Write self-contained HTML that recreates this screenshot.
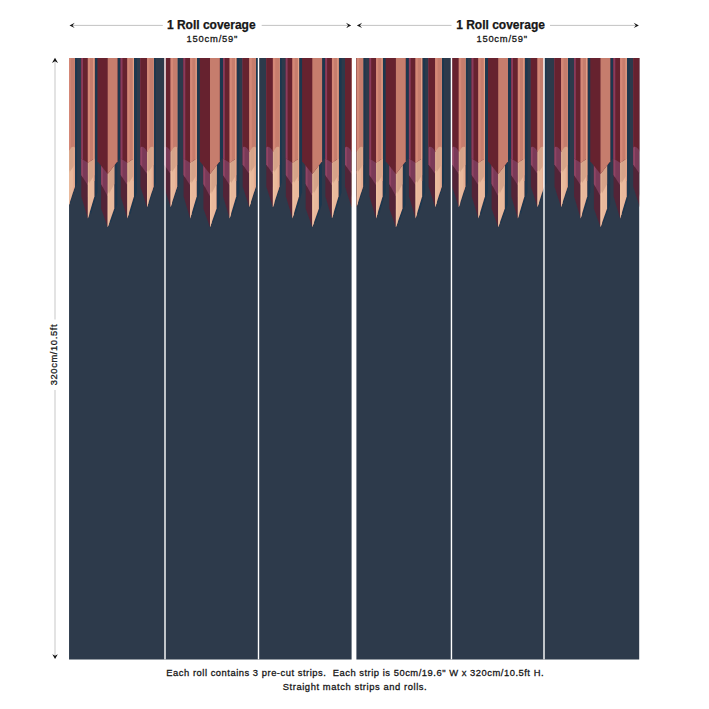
<!DOCTYPE html>
<html><head><meta charset="utf-8"><title>Roll coverage</title>
<style>
html,body{margin:0;padding:0;background:#fff;}
body{width:709px;height:709px;position:relative;overflow:hidden;font-family:"Liberation Sans",sans-serif;color:#161616;}
.t{position:absolute;white-space:nowrap;line-height:1;}
.h{font-weight:bold;font-size:12px;letter-spacing:0px;-webkit-text-stroke:0.25px #161616;}
.s{font-size:9.4px;-webkit-text-stroke:0.28px #161616;}
</style></head><body>
<svg width="709" height="709" viewBox="0 0 709 709" style="position:absolute;left:0;top:0">
<clipPath id="r1"><rect x="69.05" y="58" width="282.55" height="601.4"/></clipPath>
<g clip-path="url(#r1)">
<rect x="68.05" y="57" width="284.55" height="603.4" fill="#2d3a4b"/>

<polygon points="63.9,58 77.1,58 77.1,182.5 70.5,203.3 63.9,182.5" fill="#1c374e"/><polygon points="61.7,58 74.9,58 74.9,186.5 68.3,207.3 61.7,186.5" fill="#532437"/><polygon points="68.3,58 74.9,58 74.9,186.5 68.3,207.3" fill="#e9b99c"/><polygon points="61.7,58 68.3,58 68.3,174.1 61.7,164.5" fill="#7a3a58"/><polygon points="68.3,58 74.9,58 74.9,164.5 68.3,174.1" fill="#d5a389"/><polygon points="68.3,171.6 69.6,169.71 69.6,203.2 68.3,207.3" fill="#efc2a2"/><polygon points="68.3,58 69.6,58 69.6,169.71 68.3,171.6" fill="#efc2a2" opacity="0.3"/><polygon points="61.7,58 63.5,58 63.5,167.12 61.7,164.5" fill="#8f4464"/><polygon points="72.9,58 74.9,58 74.9,186.5 72.9,192.8" fill="#e6a58a" opacity="0.55"/><path d="M61.7,58 L61.7,147.9 C62.3,145.8 66.1,146.2 68.3,151.8 L68.8,151.2 L68.8,58 Z" fill="#66222f"/><path d="M74.9,58 L74.9,147.9 C74.3,145.8 70.5,146.2 68.3,151.8 L68.3,58 Z" fill="#c67d6d"/><polygon points="68.3,58 70.7,58 70.7,148.5 68.3,151.8" fill="#d48877"/>
<polygon points="84.25,58 97.45,58 97.45,192.3 90.85,214.6 84.25,192.3" fill="#1c374e"/><polygon points="81.25,58 94.45,58 94.45,196.3 87.85,218.6 81.25,196.3" fill="#532437"/><polygon points="87.85,58 94.45,58 94.45,196.3 87.85,218.6" fill="#e9b99c"/><polygon points="81.25,58 87.85,58 87.85,185.3 81.25,175" fill="#7a3a58"/><polygon points="87.85,58 94.45,58 94.45,175 87.85,185.3" fill="#d5a389"/><polygon points="87.85,182.8 89.15,180.77 89.15,214.21 87.85,218.6" fill="#efc2a2"/><polygon points="87.85,58 89.15,58 89.15,180.77 87.85,182.8" fill="#efc2a2" opacity="0.3"/><polygon points="81.25,58 83.05,58 83.05,177.81 81.25,175" fill="#8f4464"/><polygon points="81.25,58 94.45,58 94.45,158.5 87.85,162.7 81.25,158.5" fill="#66222f"/><polygon points="87.85,58 94.45,58 94.45,158.5 87.85,162.7" fill="#c67d6d"/><polygon points="81.25,58 83,58 83,159.61 81.25,158.5" fill="#8b3b5c"/><polygon points="87.85,58 90.05,58 90.05,161.3 87.85,162.7" fill="#d48877"/><polygon points="93.3,58 94.45,58 94.45,181 93.3,181" fill="#e6a58a"/>
<polygon points="100.9,58 121,58 121,157.2 117.3,161.38 117.3,204.6 110.7,223.2 104.1,204.6 104.1,161.72 100.5,157.2" fill="#1c374e"/><polygon points="101.1,58 114.3,58 114.3,208.6 107.7,227.2 101.1,208.6" fill="#532437"/><polygon points="107.7,58 114.3,58 114.3,208.6 107.7,227.2" fill="#e9b99c"/><polygon points="101.1,58 107.7,58 107.7,196.2 101.1,184" fill="#7a3a58"/><polygon points="107.7,58 114.3,58 114.3,184 107.7,196.2" fill="#d5a389"/><polygon points="107.7,193.7 109.2,190.93 109.2,222.97 107.7,227.2" fill="#efc2a2"/><polygon points="107.7,58 109.2,58 109.2,190.93 107.7,193.7" fill="#efc2a2" opacity="0.3"/><polygon points="101.1,58 102.9,58 102.9,187.33 101.1,184" fill="#8f4464"/><polygon points="97.5,58 117.5,58 117.5,161.2 107.7,174 97.5,161.2" fill="#66222f"/><polygon points="107.7,58 117.5,58 117.5,161.2 107.7,174" fill="#c67d6d"/>
<polygon points="123.75,58 136.95,58 136.95,192.3 130.35,214.6 123.75,192.3" fill="#1c374e"/><polygon points="120.75,58 133.95,58 133.95,196.3 127.35,218.6 120.75,196.3" fill="#532437"/><polygon points="127.35,58 133.95,58 133.95,196.3 127.35,218.6" fill="#e9b99c"/><polygon points="120.75,58 127.35,58 127.35,185.3 120.75,175" fill="#7a3a58"/><polygon points="127.35,58 133.95,58 133.95,175 127.35,185.3" fill="#d5a389"/><polygon points="127.35,182.8 128.65,180.77 128.65,214.21 127.35,218.6" fill="#efc2a2"/><polygon points="127.35,58 128.65,58 128.65,180.77 127.35,182.8" fill="#efc2a2" opacity="0.3"/><polygon points="120.75,58 122.55,58 122.55,177.81 120.75,175" fill="#8f4464"/><polygon points="120.75,58 133.95,58 133.95,158.5 127.35,162.7 120.75,158.5" fill="#66222f"/><polygon points="127.35,58 133.95,58 133.95,158.5 127.35,162.7" fill="#c67d6d"/><polygon points="120.75,58 122.5,58 122.5,159.61 120.75,158.5" fill="#8b3b5c"/><polygon points="127.35,58 129.55,58 129.55,161.3 127.35,162.7" fill="#d48877"/><polygon points="132.8,58 133.95,58 133.95,181 132.8,181" fill="#e6a58a"/>
<polygon points="142.6,58 155.8,58 155.8,182.5 149.2,203.3 142.6,182.5" fill="#1c374e"/><polygon points="140.4,58 153.6,58 153.6,186.5 147,207.3 140.4,186.5" fill="#532437"/><polygon points="147,58 153.6,58 153.6,186.5 147,207.3" fill="#e9b99c"/><polygon points="140.4,58 147,58 147,174.1 140.4,164.5" fill="#7a3a58"/><polygon points="147,58 153.6,58 153.6,164.5 147,174.1" fill="#d5a389"/><polygon points="147,171.6 148.3,169.71 148.3,203.2 147,207.3" fill="#efc2a2"/><polygon points="147,58 148.3,58 148.3,169.71 147,171.6" fill="#efc2a2" opacity="0.3"/><polygon points="140.4,58 142.2,58 142.2,167.12 140.4,164.5" fill="#8f4464"/><polygon points="151.6,58 153.6,58 153.6,186.5 151.6,192.8" fill="#e6a58a" opacity="0.55"/><path d="M140.4,58 L140.4,147.9 C141,145.8 144.8,146.2 147,151.8 L147.5,151.2 L147.5,58 Z" fill="#66222f"/><path d="M153.6,58 L153.6,147.9 C153,145.8 149.2,146.2 147,151.8 L147,58 Z" fill="#c67d6d"/><polygon points="147,58 149.4,58 149.4,148.5 147,151.8" fill="#d48877"/>

<polygon points="166.2,58 179.4,58 179.4,182.5 172.8,203.3 166.2,182.5" fill="#1c374e"/><polygon points="164,58 177.2,58 177.2,186.5 170.6,207.3 164,186.5" fill="#532437"/><polygon points="170.6,58 177.2,58 177.2,186.5 170.6,207.3" fill="#e9b99c"/><polygon points="164,58 170.6,58 170.6,174.1 164,164.5" fill="#7a3a58"/><polygon points="170.6,58 177.2,58 177.2,164.5 170.6,174.1" fill="#d5a389"/><polygon points="170.6,171.6 171.9,169.71 171.9,203.2 170.6,207.3" fill="#efc2a2"/><polygon points="170.6,58 171.9,58 171.9,169.71 170.6,171.6" fill="#efc2a2" opacity="0.3"/><polygon points="164,58 165.8,58 165.8,167.12 164,164.5" fill="#8f4464"/><polygon points="175.2,58 177.2,58 177.2,186.5 175.2,192.8" fill="#e6a58a" opacity="0.55"/><path d="M164,58 L164,147.9 C164.6,145.8 168.4,146.2 170.6,151.8 L171.1,151.2 L171.1,58 Z" fill="#66222f"/><path d="M177.2,58 L177.2,147.9 C176.6,145.8 172.8,146.2 170.6,151.8 L170.6,58 Z" fill="#c67d6d"/><polygon points="170.6,58 173,58 173,148.5 170.6,151.8" fill="#d48877"/>
<polygon points="186.55,58 199.75,58 199.75,192.3 193.15,214.6 186.55,192.3" fill="#1c374e"/><polygon points="183.55,58 196.75,58 196.75,196.3 190.15,218.6 183.55,196.3" fill="#532437"/><polygon points="190.15,58 196.75,58 196.75,196.3 190.15,218.6" fill="#e9b99c"/><polygon points="183.55,58 190.15,58 190.15,185.3 183.55,175" fill="#7a3a58"/><polygon points="190.15,58 196.75,58 196.75,175 190.15,185.3" fill="#d5a389"/><polygon points="190.15,182.8 191.45,180.77 191.45,214.21 190.15,218.6" fill="#efc2a2"/><polygon points="190.15,58 191.45,58 191.45,180.77 190.15,182.8" fill="#efc2a2" opacity="0.3"/><polygon points="183.55,58 185.35,58 185.35,177.81 183.55,175" fill="#8f4464"/><polygon points="183.55,58 196.75,58 196.75,158.5 190.15,162.7 183.55,158.5" fill="#66222f"/><polygon points="190.15,58 196.75,58 196.75,158.5 190.15,162.7" fill="#c67d6d"/><polygon points="183.55,58 185.3,58 185.3,159.61 183.55,158.5" fill="#8b3b5c"/><polygon points="190.15,58 192.35,58 192.35,161.3 190.15,162.7" fill="#d48877"/><polygon points="195.6,58 196.75,58 196.75,181 195.6,181" fill="#e6a58a"/>
<polygon points="203.2,58 223.3,58 223.3,157.2 219.6,161.38 219.6,204.6 213,223.2 206.4,204.6 206.4,161.72 202.8,157.2" fill="#1c374e"/><polygon points="203.4,58 216.6,58 216.6,208.6 210,227.2 203.4,208.6" fill="#532437"/><polygon points="210,58 216.6,58 216.6,208.6 210,227.2" fill="#e9b99c"/><polygon points="203.4,58 210,58 210,196.2 203.4,184" fill="#7a3a58"/><polygon points="210,58 216.6,58 216.6,184 210,196.2" fill="#d5a389"/><polygon points="210,193.7 211.5,190.93 211.5,222.97 210,227.2" fill="#efc2a2"/><polygon points="210,58 211.5,58 211.5,190.93 210,193.7" fill="#efc2a2" opacity="0.3"/><polygon points="203.4,58 205.2,58 205.2,187.33 203.4,184" fill="#8f4464"/><polygon points="199.8,58 219.8,58 219.8,161.2 210,174 199.8,161.2" fill="#66222f"/><polygon points="210,58 219.8,58 219.8,161.2 210,174" fill="#c67d6d"/>
<polygon points="226.05,58 239.25,58 239.25,192.3 232.65,214.6 226.05,192.3" fill="#1c374e"/><polygon points="223.05,58 236.25,58 236.25,196.3 229.65,218.6 223.05,196.3" fill="#532437"/><polygon points="229.65,58 236.25,58 236.25,196.3 229.65,218.6" fill="#e9b99c"/><polygon points="223.05,58 229.65,58 229.65,185.3 223.05,175" fill="#7a3a58"/><polygon points="229.65,58 236.25,58 236.25,175 229.65,185.3" fill="#d5a389"/><polygon points="229.65,182.8 230.95,180.77 230.95,214.21 229.65,218.6" fill="#efc2a2"/><polygon points="229.65,58 230.95,58 230.95,180.77 229.65,182.8" fill="#efc2a2" opacity="0.3"/><polygon points="223.05,58 224.85,58 224.85,177.81 223.05,175" fill="#8f4464"/><polygon points="223.05,58 236.25,58 236.25,158.5 229.65,162.7 223.05,158.5" fill="#66222f"/><polygon points="229.65,58 236.25,58 236.25,158.5 229.65,162.7" fill="#c67d6d"/><polygon points="223.05,58 224.8,58 224.8,159.61 223.05,158.5" fill="#8b3b5c"/><polygon points="229.65,58 231.85,58 231.85,161.3 229.65,162.7" fill="#d48877"/><polygon points="235.1,58 236.25,58 236.25,181 235.1,181" fill="#e6a58a"/>
<polygon points="244.9,58 258.1,58 258.1,182.5 251.5,203.3 244.9,182.5" fill="#1c374e"/><polygon points="242.7,58 255.9,58 255.9,186.5 249.3,207.3 242.7,186.5" fill="#532437"/><polygon points="249.3,58 255.9,58 255.9,186.5 249.3,207.3" fill="#e9b99c"/><polygon points="242.7,58 249.3,58 249.3,174.1 242.7,164.5" fill="#7a3a58"/><polygon points="249.3,58 255.9,58 255.9,164.5 249.3,174.1" fill="#d5a389"/><polygon points="249.3,171.6 250.6,169.71 250.6,203.2 249.3,207.3" fill="#efc2a2"/><polygon points="249.3,58 250.6,58 250.6,169.71 249.3,171.6" fill="#efc2a2" opacity="0.3"/><polygon points="242.7,58 244.5,58 244.5,167.12 242.7,164.5" fill="#8f4464"/><polygon points="253.9,58 255.9,58 255.9,186.5 253.9,192.8" fill="#e6a58a" opacity="0.55"/><path d="M242.7,58 L242.7,147.9 C243.3,145.8 247.1,146.2 249.3,151.8 L249.8,151.2 L249.8,58 Z" fill="#66222f"/><path d="M255.9,58 L255.9,147.9 C255.3,145.8 251.5,146.2 249.3,151.8 L249.3,58 Z" fill="#c67d6d"/><polygon points="249.3,58 251.7,58 251.7,148.5 249.3,151.8" fill="#d48877"/>

<polygon points="268.5,58 281.7,58 281.7,182.5 275.1,203.3 268.5,182.5" fill="#1c374e"/><polygon points="266.3,58 279.5,58 279.5,186.5 272.9,207.3 266.3,186.5" fill="#532437"/><polygon points="272.9,58 279.5,58 279.5,186.5 272.9,207.3" fill="#e9b99c"/><polygon points="266.3,58 272.9,58 272.9,174.1 266.3,164.5" fill="#7a3a58"/><polygon points="272.9,58 279.5,58 279.5,164.5 272.9,174.1" fill="#d5a389"/><polygon points="272.9,171.6 274.2,169.71 274.2,203.2 272.9,207.3" fill="#efc2a2"/><polygon points="272.9,58 274.2,58 274.2,169.71 272.9,171.6" fill="#efc2a2" opacity="0.3"/><polygon points="266.3,58 268.1,58 268.1,167.12 266.3,164.5" fill="#8f4464"/><polygon points="277.5,58 279.5,58 279.5,186.5 277.5,192.8" fill="#e6a58a" opacity="0.55"/><path d="M266.3,58 L266.3,147.9 C266.9,145.8 270.7,146.2 272.9,151.8 L273.4,151.2 L273.4,58 Z" fill="#66222f"/><path d="M279.5,58 L279.5,147.9 C278.9,145.8 275.1,146.2 272.9,151.8 L272.9,58 Z" fill="#c67d6d"/><polygon points="272.9,58 275.3,58 275.3,148.5 272.9,151.8" fill="#d48877"/>
<polygon points="288.85,58 302.05,58 302.05,192.3 295.45,214.6 288.85,192.3" fill="#1c374e"/><polygon points="285.85,58 299.05,58 299.05,196.3 292.45,218.6 285.85,196.3" fill="#532437"/><polygon points="292.45,58 299.05,58 299.05,196.3 292.45,218.6" fill="#e9b99c"/><polygon points="285.85,58 292.45,58 292.45,185.3 285.85,175" fill="#7a3a58"/><polygon points="292.45,58 299.05,58 299.05,175 292.45,185.3" fill="#d5a389"/><polygon points="292.45,182.8 293.75,180.77 293.75,214.21 292.45,218.6" fill="#efc2a2"/><polygon points="292.45,58 293.75,58 293.75,180.77 292.45,182.8" fill="#efc2a2" opacity="0.3"/><polygon points="285.85,58 287.65,58 287.65,177.81 285.85,175" fill="#8f4464"/><polygon points="285.85,58 299.05,58 299.05,158.5 292.45,162.7 285.85,158.5" fill="#66222f"/><polygon points="292.45,58 299.05,58 299.05,158.5 292.45,162.7" fill="#c67d6d"/><polygon points="285.85,58 287.6,58 287.6,159.61 285.85,158.5" fill="#8b3b5c"/><polygon points="292.45,58 294.65,58 294.65,161.3 292.45,162.7" fill="#d48877"/><polygon points="297.9,58 299.05,58 299.05,181 297.9,181" fill="#e6a58a"/>
<polygon points="305.5,58 325.6,58 325.6,157.2 321.9,161.38 321.9,204.6 315.3,223.2 308.7,204.6 308.7,161.72 305.1,157.2" fill="#1c374e"/><polygon points="305.7,58 318.9,58 318.9,208.6 312.3,227.2 305.7,208.6" fill="#532437"/><polygon points="312.3,58 318.9,58 318.9,208.6 312.3,227.2" fill="#e9b99c"/><polygon points="305.7,58 312.3,58 312.3,196.2 305.7,184" fill="#7a3a58"/><polygon points="312.3,58 318.9,58 318.9,184 312.3,196.2" fill="#d5a389"/><polygon points="312.3,193.7 313.8,190.93 313.8,222.97 312.3,227.2" fill="#efc2a2"/><polygon points="312.3,58 313.8,58 313.8,190.93 312.3,193.7" fill="#efc2a2" opacity="0.3"/><polygon points="305.7,58 307.5,58 307.5,187.33 305.7,184" fill="#8f4464"/><polygon points="302.1,58 322.1,58 322.1,161.2 312.3,174 302.1,161.2" fill="#66222f"/><polygon points="312.3,58 322.1,58 322.1,161.2 312.3,174" fill="#c67d6d"/>
<polygon points="328.35,58 341.55,58 341.55,192.3 334.95,214.6 328.35,192.3" fill="#1c374e"/><polygon points="325.35,58 338.55,58 338.55,196.3 331.95,218.6 325.35,196.3" fill="#532437"/><polygon points="331.95,58 338.55,58 338.55,196.3 331.95,218.6" fill="#e9b99c"/><polygon points="325.35,58 331.95,58 331.95,185.3 325.35,175" fill="#7a3a58"/><polygon points="331.95,58 338.55,58 338.55,175 331.95,185.3" fill="#d5a389"/><polygon points="331.95,182.8 333.25,180.77 333.25,214.21 331.95,218.6" fill="#efc2a2"/><polygon points="331.95,58 333.25,58 333.25,180.77 331.95,182.8" fill="#efc2a2" opacity="0.3"/><polygon points="325.35,58 327.15,58 327.15,177.81 325.35,175" fill="#8f4464"/><polygon points="325.35,58 338.55,58 338.55,158.5 331.95,162.7 325.35,158.5" fill="#66222f"/><polygon points="331.95,58 338.55,58 338.55,158.5 331.95,162.7" fill="#c67d6d"/><polygon points="325.35,58 327.1,58 327.1,159.61 325.35,158.5" fill="#8b3b5c"/><polygon points="331.95,58 334.15,58 334.15,161.3 331.95,162.7" fill="#d48877"/><polygon points="337.4,58 338.55,58 338.55,181 337.4,181" fill="#e6a58a"/>
<polygon points="347.2,58 360.4,58 360.4,182.5 353.8,203.3 347.2,182.5" fill="#1c374e"/><polygon points="345,58 358.2,58 358.2,186.5 351.6,207.3 345,186.5" fill="#532437"/><polygon points="351.6,58 358.2,58 358.2,186.5 351.6,207.3" fill="#e9b99c"/><polygon points="345,58 351.6,58 351.6,174.1 345,164.5" fill="#7a3a58"/><polygon points="351.6,58 358.2,58 358.2,164.5 351.6,174.1" fill="#d5a389"/><polygon points="351.6,171.6 352.9,169.71 352.9,203.2 351.6,207.3" fill="#efc2a2"/><polygon points="351.6,58 352.9,58 352.9,169.71 351.6,171.6" fill="#efc2a2" opacity="0.3"/><polygon points="345,58 346.8,58 346.8,167.12 345,164.5" fill="#8f4464"/><polygon points="356.2,58 358.2,58 358.2,186.5 356.2,192.8" fill="#e6a58a" opacity="0.55"/><path d="M345,58 L345,147.9 C345.6,145.8 349.4,146.2 351.6,151.8 L352.1,151.2 L352.1,58 Z" fill="#66222f"/><path d="M358.2,58 L358.2,147.9 C357.6,145.8 353.8,146.2 351.6,151.8 L351.6,58 Z" fill="#c67d6d"/><polygon points="351.6,58 354,58 354,148.5 351.6,151.8" fill="#d48877"/>


</g>
<clipPath id="r2"><rect x="356.4" y="58" width="282.8" height="601.4"/></clipPath>
<g clip-path="url(#r2)">
<rect x="355.4" y="57" width="284.8" height="603.4" fill="#2d3a4b"/>

<polygon points="352.1,58 365.3,58 365.3,182.5 358.7,203.3 352.1,182.5" fill="#1c374e"/><polygon points="349.9,58 363.1,58 363.1,186.5 356.5,207.3 349.9,186.5" fill="#532437"/><polygon points="356.5,58 363.1,58 363.1,186.5 356.5,207.3" fill="#e9b99c"/><polygon points="349.9,58 356.5,58 356.5,174.1 349.9,164.5" fill="#7a3a58"/><polygon points="356.5,58 363.1,58 363.1,164.5 356.5,174.1" fill="#d5a389"/><polygon points="356.5,171.6 357.8,169.71 357.8,203.2 356.5,207.3" fill="#efc2a2"/><polygon points="356.5,58 357.8,58 357.8,169.71 356.5,171.6" fill="#efc2a2" opacity="0.3"/><polygon points="349.9,58 351.7,58 351.7,167.12 349.9,164.5" fill="#8f4464"/><polygon points="361.1,58 363.1,58 363.1,186.5 361.1,192.8" fill="#e6a58a" opacity="0.55"/><path d="M349.9,58 L349.9,147.9 C350.5,145.8 354.3,146.2 356.5,151.8 L357,151.2 L357,58 Z" fill="#66222f"/><path d="M363.1,58 L363.1,147.9 C362.5,145.8 358.7,146.2 356.5,151.8 L356.5,58 Z" fill="#c67d6d"/><polygon points="356.5,58 358.9,58 358.9,148.5 356.5,151.8" fill="#d48877"/>
<polygon points="372.45,58 385.65,58 385.65,192.3 379.05,214.6 372.45,192.3" fill="#1c374e"/><polygon points="369.45,58 382.65,58 382.65,196.3 376.05,218.6 369.45,196.3" fill="#532437"/><polygon points="376.05,58 382.65,58 382.65,196.3 376.05,218.6" fill="#e9b99c"/><polygon points="369.45,58 376.05,58 376.05,185.3 369.45,175" fill="#7a3a58"/><polygon points="376.05,58 382.65,58 382.65,175 376.05,185.3" fill="#d5a389"/><polygon points="376.05,182.8 377.35,180.77 377.35,214.21 376.05,218.6" fill="#efc2a2"/><polygon points="376.05,58 377.35,58 377.35,180.77 376.05,182.8" fill="#efc2a2" opacity="0.3"/><polygon points="369.45,58 371.25,58 371.25,177.81 369.45,175" fill="#8f4464"/><polygon points="369.45,58 382.65,58 382.65,158.5 376.05,162.7 369.45,158.5" fill="#66222f"/><polygon points="376.05,58 382.65,58 382.65,158.5 376.05,162.7" fill="#c67d6d"/><polygon points="369.45,58 371.2,58 371.2,159.61 369.45,158.5" fill="#8b3b5c"/><polygon points="376.05,58 378.25,58 378.25,161.3 376.05,162.7" fill="#d48877"/><polygon points="381.5,58 382.65,58 382.65,181 381.5,181" fill="#e6a58a"/>
<polygon points="389.1,58 409.2,58 409.2,157.2 405.5,161.38 405.5,204.6 398.9,223.2 392.3,204.6 392.3,161.72 388.7,157.2" fill="#1c374e"/><polygon points="389.3,58 402.5,58 402.5,208.6 395.9,227.2 389.3,208.6" fill="#532437"/><polygon points="395.9,58 402.5,58 402.5,208.6 395.9,227.2" fill="#e9b99c"/><polygon points="389.3,58 395.9,58 395.9,196.2 389.3,184" fill="#7a3a58"/><polygon points="395.9,58 402.5,58 402.5,184 395.9,196.2" fill="#d5a389"/><polygon points="395.9,193.7 397.4,190.93 397.4,222.97 395.9,227.2" fill="#efc2a2"/><polygon points="395.9,58 397.4,58 397.4,190.93 395.9,193.7" fill="#efc2a2" opacity="0.3"/><polygon points="389.3,58 391.1,58 391.1,187.33 389.3,184" fill="#8f4464"/><polygon points="385.7,58 405.7,58 405.7,161.2 395.9,174 385.7,161.2" fill="#66222f"/><polygon points="395.9,58 405.7,58 405.7,161.2 395.9,174" fill="#c67d6d"/>
<polygon points="411.95,58 425.15,58 425.15,192.3 418.55,214.6 411.95,192.3" fill="#1c374e"/><polygon points="408.95,58 422.15,58 422.15,196.3 415.55,218.6 408.95,196.3" fill="#532437"/><polygon points="415.55,58 422.15,58 422.15,196.3 415.55,218.6" fill="#e9b99c"/><polygon points="408.95,58 415.55,58 415.55,185.3 408.95,175" fill="#7a3a58"/><polygon points="415.55,58 422.15,58 422.15,175 415.55,185.3" fill="#d5a389"/><polygon points="415.55,182.8 416.85,180.77 416.85,214.21 415.55,218.6" fill="#efc2a2"/><polygon points="415.55,58 416.85,58 416.85,180.77 415.55,182.8" fill="#efc2a2" opacity="0.3"/><polygon points="408.95,58 410.75,58 410.75,177.81 408.95,175" fill="#8f4464"/><polygon points="408.95,58 422.15,58 422.15,158.5 415.55,162.7 408.95,158.5" fill="#66222f"/><polygon points="415.55,58 422.15,58 422.15,158.5 415.55,162.7" fill="#c67d6d"/><polygon points="408.95,58 410.7,58 410.7,159.61 408.95,158.5" fill="#8b3b5c"/><polygon points="415.55,58 417.75,58 417.75,161.3 415.55,162.7" fill="#d48877"/><polygon points="421,58 422.15,58 422.15,181 421,181" fill="#e6a58a"/>
<polygon points="430.8,58 444,58 444,182.5 437.4,203.3 430.8,182.5" fill="#1c374e"/><polygon points="428.6,58 441.8,58 441.8,186.5 435.2,207.3 428.6,186.5" fill="#532437"/><polygon points="435.2,58 441.8,58 441.8,186.5 435.2,207.3" fill="#e9b99c"/><polygon points="428.6,58 435.2,58 435.2,174.1 428.6,164.5" fill="#7a3a58"/><polygon points="435.2,58 441.8,58 441.8,164.5 435.2,174.1" fill="#d5a389"/><polygon points="435.2,171.6 436.5,169.71 436.5,203.2 435.2,207.3" fill="#efc2a2"/><polygon points="435.2,58 436.5,58 436.5,169.71 435.2,171.6" fill="#efc2a2" opacity="0.3"/><polygon points="428.6,58 430.4,58 430.4,167.12 428.6,164.5" fill="#8f4464"/><polygon points="439.8,58 441.8,58 441.8,186.5 439.8,192.8" fill="#e6a58a" opacity="0.55"/><path d="M428.6,58 L428.6,147.9 C429.2,145.8 433,146.2 435.2,151.8 L435.7,151.2 L435.7,58 Z" fill="#66222f"/><path d="M441.8,58 L441.8,147.9 C441.2,145.8 437.4,146.2 435.2,151.8 L435.2,58 Z" fill="#c67d6d"/><polygon points="435.2,58 437.6,58 437.6,148.5 435.2,151.8" fill="#d48877"/>

<polygon points="454.4,58 467.6,58 467.6,182.5 461,203.3 454.4,182.5" fill="#1c374e"/><polygon points="452.2,58 465.4,58 465.4,186.5 458.8,207.3 452.2,186.5" fill="#532437"/><polygon points="458.8,58 465.4,58 465.4,186.5 458.8,207.3" fill="#e9b99c"/><polygon points="452.2,58 458.8,58 458.8,174.1 452.2,164.5" fill="#7a3a58"/><polygon points="458.8,58 465.4,58 465.4,164.5 458.8,174.1" fill="#d5a389"/><polygon points="458.8,171.6 460.1,169.71 460.1,203.2 458.8,207.3" fill="#efc2a2"/><polygon points="458.8,58 460.1,58 460.1,169.71 458.8,171.6" fill="#efc2a2" opacity="0.3"/><polygon points="452.2,58 454,58 454,167.12 452.2,164.5" fill="#8f4464"/><polygon points="463.4,58 465.4,58 465.4,186.5 463.4,192.8" fill="#e6a58a" opacity="0.55"/><path d="M452.2,58 L452.2,147.9 C452.8,145.8 456.6,146.2 458.8,151.8 L459.3,151.2 L459.3,58 Z" fill="#66222f"/><path d="M465.4,58 L465.4,147.9 C464.8,145.8 461,146.2 458.8,151.8 L458.8,58 Z" fill="#c67d6d"/><polygon points="458.8,58 461.2,58 461.2,148.5 458.8,151.8" fill="#d48877"/>
<polygon points="474.75,58 487.95,58 487.95,192.3 481.35,214.6 474.75,192.3" fill="#1c374e"/><polygon points="471.75,58 484.95,58 484.95,196.3 478.35,218.6 471.75,196.3" fill="#532437"/><polygon points="478.35,58 484.95,58 484.95,196.3 478.35,218.6" fill="#e9b99c"/><polygon points="471.75,58 478.35,58 478.35,185.3 471.75,175" fill="#7a3a58"/><polygon points="478.35,58 484.95,58 484.95,175 478.35,185.3" fill="#d5a389"/><polygon points="478.35,182.8 479.65,180.77 479.65,214.21 478.35,218.6" fill="#efc2a2"/><polygon points="478.35,58 479.65,58 479.65,180.77 478.35,182.8" fill="#efc2a2" opacity="0.3"/><polygon points="471.75,58 473.55,58 473.55,177.81 471.75,175" fill="#8f4464"/><polygon points="471.75,58 484.95,58 484.95,158.5 478.35,162.7 471.75,158.5" fill="#66222f"/><polygon points="478.35,58 484.95,58 484.95,158.5 478.35,162.7" fill="#c67d6d"/><polygon points="471.75,58 473.5,58 473.5,159.61 471.75,158.5" fill="#8b3b5c"/><polygon points="478.35,58 480.55,58 480.55,161.3 478.35,162.7" fill="#d48877"/><polygon points="483.8,58 484.95,58 484.95,181 483.8,181" fill="#e6a58a"/>
<polygon points="491.4,58 511.5,58 511.5,157.2 507.8,161.38 507.8,204.6 501.2,223.2 494.6,204.6 494.6,161.72 491,157.2" fill="#1c374e"/><polygon points="491.6,58 504.8,58 504.8,208.6 498.2,227.2 491.6,208.6" fill="#532437"/><polygon points="498.2,58 504.8,58 504.8,208.6 498.2,227.2" fill="#e9b99c"/><polygon points="491.6,58 498.2,58 498.2,196.2 491.6,184" fill="#7a3a58"/><polygon points="498.2,58 504.8,58 504.8,184 498.2,196.2" fill="#d5a389"/><polygon points="498.2,193.7 499.7,190.93 499.7,222.97 498.2,227.2" fill="#efc2a2"/><polygon points="498.2,58 499.7,58 499.7,190.93 498.2,193.7" fill="#efc2a2" opacity="0.3"/><polygon points="491.6,58 493.4,58 493.4,187.33 491.6,184" fill="#8f4464"/><polygon points="488,58 508,58 508,161.2 498.2,174 488,161.2" fill="#66222f"/><polygon points="498.2,58 508,58 508,161.2 498.2,174" fill="#c67d6d"/>
<polygon points="514.25,58 527.45,58 527.45,192.3 520.85,214.6 514.25,192.3" fill="#1c374e"/><polygon points="511.25,58 524.45,58 524.45,196.3 517.85,218.6 511.25,196.3" fill="#532437"/><polygon points="517.85,58 524.45,58 524.45,196.3 517.85,218.6" fill="#e9b99c"/><polygon points="511.25,58 517.85,58 517.85,185.3 511.25,175" fill="#7a3a58"/><polygon points="517.85,58 524.45,58 524.45,175 517.85,185.3" fill="#d5a389"/><polygon points="517.85,182.8 519.15,180.77 519.15,214.21 517.85,218.6" fill="#efc2a2"/><polygon points="517.85,58 519.15,58 519.15,180.77 517.85,182.8" fill="#efc2a2" opacity="0.3"/><polygon points="511.25,58 513.05,58 513.05,177.81 511.25,175" fill="#8f4464"/><polygon points="511.25,58 524.45,58 524.45,158.5 517.85,162.7 511.25,158.5" fill="#66222f"/><polygon points="517.85,58 524.45,58 524.45,158.5 517.85,162.7" fill="#c67d6d"/><polygon points="511.25,58 513,58 513,159.61 511.25,158.5" fill="#8b3b5c"/><polygon points="517.85,58 520.05,58 520.05,161.3 517.85,162.7" fill="#d48877"/><polygon points="523.3,58 524.45,58 524.45,181 523.3,181" fill="#e6a58a"/>
<polygon points="533.1,58 546.3,58 546.3,182.5 539.7,203.3 533.1,182.5" fill="#1c374e"/><polygon points="530.9,58 544.1,58 544.1,186.5 537.5,207.3 530.9,186.5" fill="#532437"/><polygon points="537.5,58 544.1,58 544.1,186.5 537.5,207.3" fill="#e9b99c"/><polygon points="530.9,58 537.5,58 537.5,174.1 530.9,164.5" fill="#7a3a58"/><polygon points="537.5,58 544.1,58 544.1,164.5 537.5,174.1" fill="#d5a389"/><polygon points="537.5,171.6 538.8,169.71 538.8,203.2 537.5,207.3" fill="#efc2a2"/><polygon points="537.5,58 538.8,58 538.8,169.71 537.5,171.6" fill="#efc2a2" opacity="0.3"/><polygon points="530.9,58 532.7,58 532.7,167.12 530.9,164.5" fill="#8f4464"/><polygon points="542.1,58 544.1,58 544.1,186.5 542.1,192.8" fill="#e6a58a" opacity="0.55"/><path d="M530.9,58 L530.9,147.9 C531.5,145.8 535.3,146.2 537.5,151.8 L538,151.2 L538,58 Z" fill="#66222f"/><path d="M544.1,58 L544.1,147.9 C543.5,145.8 539.7,146.2 537.5,151.8 L537.5,58 Z" fill="#c67d6d"/><polygon points="537.5,58 539.9,58 539.9,148.5 537.5,151.8" fill="#d48877"/>

<polygon points="556.7,58 569.9,58 569.9,182.5 563.3,203.3 556.7,182.5" fill="#1c374e"/><polygon points="554.5,58 567.7,58 567.7,186.5 561.1,207.3 554.5,186.5" fill="#532437"/><polygon points="561.1,58 567.7,58 567.7,186.5 561.1,207.3" fill="#e9b99c"/><polygon points="554.5,58 561.1,58 561.1,174.1 554.5,164.5" fill="#7a3a58"/><polygon points="561.1,58 567.7,58 567.7,164.5 561.1,174.1" fill="#d5a389"/><polygon points="561.1,171.6 562.4,169.71 562.4,203.2 561.1,207.3" fill="#efc2a2"/><polygon points="561.1,58 562.4,58 562.4,169.71 561.1,171.6" fill="#efc2a2" opacity="0.3"/><polygon points="554.5,58 556.3,58 556.3,167.12 554.5,164.5" fill="#8f4464"/><polygon points="565.7,58 567.7,58 567.7,186.5 565.7,192.8" fill="#e6a58a" opacity="0.55"/><path d="M554.5,58 L554.5,147.9 C555.1,145.8 558.9,146.2 561.1,151.8 L561.6,151.2 L561.6,58 Z" fill="#66222f"/><path d="M567.7,58 L567.7,147.9 C567.1,145.8 563.3,146.2 561.1,151.8 L561.1,58 Z" fill="#c67d6d"/><polygon points="561.1,58 563.5,58 563.5,148.5 561.1,151.8" fill="#d48877"/>
<polygon points="577.05,58 590.25,58 590.25,192.3 583.65,214.6 577.05,192.3" fill="#1c374e"/><polygon points="574.05,58 587.25,58 587.25,196.3 580.65,218.6 574.05,196.3" fill="#532437"/><polygon points="580.65,58 587.25,58 587.25,196.3 580.65,218.6" fill="#e9b99c"/><polygon points="574.05,58 580.65,58 580.65,185.3 574.05,175" fill="#7a3a58"/><polygon points="580.65,58 587.25,58 587.25,175 580.65,185.3" fill="#d5a389"/><polygon points="580.65,182.8 581.95,180.77 581.95,214.21 580.65,218.6" fill="#efc2a2"/><polygon points="580.65,58 581.95,58 581.95,180.77 580.65,182.8" fill="#efc2a2" opacity="0.3"/><polygon points="574.05,58 575.85,58 575.85,177.81 574.05,175" fill="#8f4464"/><polygon points="574.05,58 587.25,58 587.25,158.5 580.65,162.7 574.05,158.5" fill="#66222f"/><polygon points="580.65,58 587.25,58 587.25,158.5 580.65,162.7" fill="#c67d6d"/><polygon points="574.05,58 575.8,58 575.8,159.61 574.05,158.5" fill="#8b3b5c"/><polygon points="580.65,58 582.85,58 582.85,161.3 580.65,162.7" fill="#d48877"/><polygon points="586.1,58 587.25,58 587.25,181 586.1,181" fill="#e6a58a"/>
<polygon points="593.7,58 613.8,58 613.8,157.2 610.1,161.38 610.1,204.6 603.5,223.2 596.9,204.6 596.9,161.72 593.3,157.2" fill="#1c374e"/><polygon points="593.9,58 607.1,58 607.1,208.6 600.5,227.2 593.9,208.6" fill="#532437"/><polygon points="600.5,58 607.1,58 607.1,208.6 600.5,227.2" fill="#e9b99c"/><polygon points="593.9,58 600.5,58 600.5,196.2 593.9,184" fill="#7a3a58"/><polygon points="600.5,58 607.1,58 607.1,184 600.5,196.2" fill="#d5a389"/><polygon points="600.5,193.7 602,190.93 602,222.97 600.5,227.2" fill="#efc2a2"/><polygon points="600.5,58 602,58 602,190.93 600.5,193.7" fill="#efc2a2" opacity="0.3"/><polygon points="593.9,58 595.7,58 595.7,187.33 593.9,184" fill="#8f4464"/><polygon points="590.3,58 610.3,58 610.3,161.2 600.5,174 590.3,161.2" fill="#66222f"/><polygon points="600.5,58 610.3,58 610.3,161.2 600.5,174" fill="#c67d6d"/>
<polygon points="616.55,58 629.75,58 629.75,192.3 623.15,214.6 616.55,192.3" fill="#1c374e"/><polygon points="613.55,58 626.75,58 626.75,196.3 620.15,218.6 613.55,196.3" fill="#532437"/><polygon points="620.15,58 626.75,58 626.75,196.3 620.15,218.6" fill="#e9b99c"/><polygon points="613.55,58 620.15,58 620.15,185.3 613.55,175" fill="#7a3a58"/><polygon points="620.15,58 626.75,58 626.75,175 620.15,185.3" fill="#d5a389"/><polygon points="620.15,182.8 621.45,180.77 621.45,214.21 620.15,218.6" fill="#efc2a2"/><polygon points="620.15,58 621.45,58 621.45,180.77 620.15,182.8" fill="#efc2a2" opacity="0.3"/><polygon points="613.55,58 615.35,58 615.35,177.81 613.55,175" fill="#8f4464"/><polygon points="613.55,58 626.75,58 626.75,158.5 620.15,162.7 613.55,158.5" fill="#66222f"/><polygon points="620.15,58 626.75,58 626.75,158.5 620.15,162.7" fill="#c67d6d"/><polygon points="613.55,58 615.3,58 615.3,159.61 613.55,158.5" fill="#8b3b5c"/><polygon points="620.15,58 622.35,58 622.35,161.3 620.15,162.7" fill="#d48877"/><polygon points="625.6,58 626.75,58 626.75,181 625.6,181" fill="#e6a58a"/>
<polygon points="635.4,58 648.6,58 648.6,182.5 642,203.3 635.4,182.5" fill="#1c374e"/><polygon points="633.2,58 646.4,58 646.4,186.5 639.8,207.3 633.2,186.5" fill="#532437"/><polygon points="639.8,58 646.4,58 646.4,186.5 639.8,207.3" fill="#e9b99c"/><polygon points="633.2,58 639.8,58 639.8,174.1 633.2,164.5" fill="#7a3a58"/><polygon points="639.8,58 646.4,58 646.4,164.5 639.8,174.1" fill="#d5a389"/><polygon points="639.8,171.6 641.1,169.71 641.1,203.2 639.8,207.3" fill="#efc2a2"/><polygon points="639.8,58 641.1,58 641.1,169.71 639.8,171.6" fill="#efc2a2" opacity="0.3"/><polygon points="633.2,58 635,58 635,167.12 633.2,164.5" fill="#8f4464"/><polygon points="644.4,58 646.4,58 646.4,186.5 644.4,192.8" fill="#e6a58a" opacity="0.55"/><path d="M633.2,58 L633.2,147.9 C633.8,145.8 637.6,146.2 639.8,151.8 L640.3,151.2 L640.3,58 Z" fill="#66222f"/><path d="M646.4,58 L646.4,147.9 C645.8,145.8 642,146.2 639.8,151.8 L639.8,58 Z" fill="#c67d6d"/><polygon points="639.8,58 642.2,58 642.2,148.5 639.8,151.8" fill="#d48877"/>


</g>
<rect x="164.3" y="58" width="1.4" height="601.4" fill="#fff"/>
<rect x="257.8" y="58" width="1.4" height="601.4" fill="#fff"/>
<rect x="450.75" y="58" width="1.4" height="601.4" fill="#fff"/>
<rect x="543.3" y="58" width="1.4" height="601.4" fill="#fff"/>
<path d="M71.5,25.4 H162.8 M261.7,25.4 H349.2" stroke="#b4b4b4" stroke-width="0.8" fill="none"/><polygon points="69.5,25.4 74.7,22.7 72.5,25.4 74.7,28.1" fill="#161616"/><polygon points="351.2,25.4 346,22.7 348.2,25.4 346,28.1" fill="#161616"/>
<path d="M358.9,25.4 H451.5 M550,25.4 H636.9" stroke="#b4b4b4" stroke-width="0.8" fill="none"/><polygon points="356.9,25.4 362.1,22.7 359.9,25.4 362.1,28.1" fill="#161616"/><polygon points="638.9,25.4 633.7,22.7 635.9,25.4 633.7,28.1" fill="#161616"/>
<path d="M55,61.5 V319.6 M55,390 V655.6" stroke="#d4d4d4" stroke-width="1.3" fill="none"/>
<path d="M52,63 L55,57.7 L58,63 L55,61.3 Z" fill="#111"/>
<path d="M52.3,654.2 L55.05,658.9 L57.8,654.2 L55.05,655.7 Z" fill="#111"/>
</svg>
<div class="t h" id="h1" style="left:166.9px;top:18.5px;">1 Roll coverage</div>
<div class="t s" id="s1" style="letter-spacing:0.78px;left:186.6px;top:34.3px;">150cm/59"</div>
<div class="t h" id="h2" style="left:456.2px;top:18.5px;">1 Roll coverage</div>
<div class="t s" id="s2" style="letter-spacing:0.78px;left:476.4px;top:34.3px;">150cm/59"</div>
<div class="t s" id="v1" style="letter-spacing:0.6px;left:0;top:0;transform-origin:0 0;transform:translate(48.6px,385.3px) rotate(-90deg);">320cm/10.5ft</div>
<div class="t s" id="b1" style="letter-spacing:0.525px;left:166.3px;top:668.45px;">Each roll contains 3 pre-cut strips.&nbsp; Each strip is 50cm/19.6" W x 320cm/10.5ft H.</div>
<div class="t s" id="b2" style="letter-spacing:0.578px;left:282.7px;top:681.75px;">Straight match strips and rolls.</div>
</body></html>
